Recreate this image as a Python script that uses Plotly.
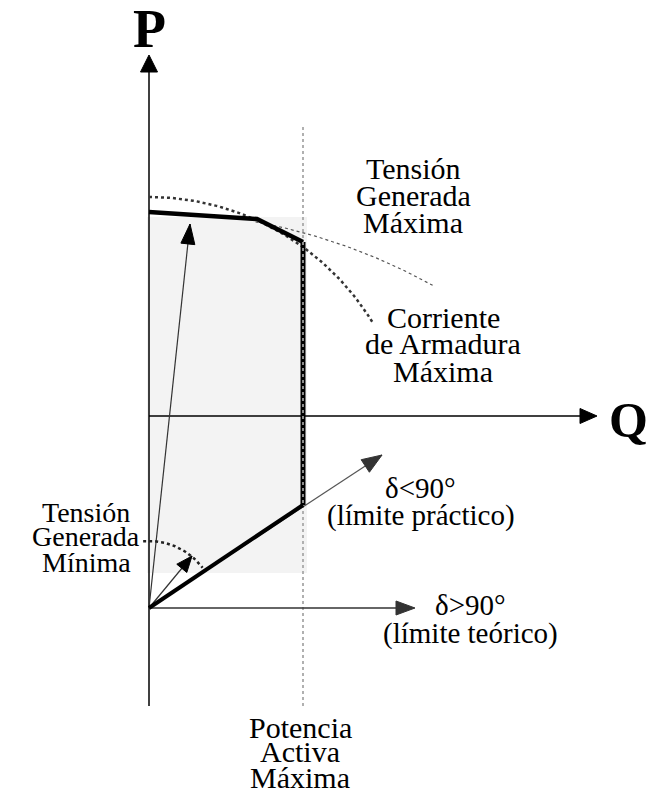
import numpy as np
import plotly.graph_objects as go

# ---- diagram geometry (diagram units = page pixels, y grows downward) ----
P_AXIS = dict(x=[149, 149], y=[706, 55])          # P axis, arrow at the top
Q_AXIS = dict(x=[149, 597], y=[416, 416])         # Q axis, arrow at the right
ORIGIN = [149, 608]                               # origin of the voltage vectors
DELTA_GT90_TIP = [415, 608]                       # δ>90° vector tip
DELTA_LT90_TIP = [382, 455]                       # δ<90° vector tip
EMAX_TIP = [190, 224]                             # max generated voltage vector tip
EMIN_TIP = [192, 556]                             # min generated voltage vector tip
PMAX_LINE = dict(x=[303, 303], y=[127, 706])      # potencia activa máxima
SHADE_X = [147, 307]
SHADE_Y = [217, 573]
TOP_LIMIT = dict(x=[149, 257, 303], y=[212, 219, 242])
SIDE_LIMIT = dict(x=[303, 303], y=[242, 505])
PRACT_LIMIT = dict(x=[303, 149], y=[505, 608])

ARM_CIRCLE = dict(cx=149, cy=459, r=262, a0=90, a1=31)    # corriente de armadura máx.
EMAX_CIRCLE = dict(cx=149, cy=797, r=585, a0=79.5, a1=61)  # tensión generada máx.
EMIN_ARC = dict(cx=149, cy=608, r=67, a0=95, a1=37)        # tensión generada mín.

LABELS = [
    # text, x, baseline y, size
    ("Tensión", 413, 178, 30), ("Generada", 413, 205, 30), ("Máxima", 413, 232, 30),
    ("Corriente", 443, 327, 30), ("de Armadura", 443, 353, 30), ("Máxima", 443, 381, 30),
    ("Tensión", 86, 522, 28), ("Generada", 86, 546, 28), ("Mínima", 86, 572, 28),
    ("δ<90°", 420, 498, 29), ("(límite práctico)", 421, 525, 29),
    ("δ>90°", 470, 615, 29), ("(límite teórico)", 470, 643, 29),
    ("Potencia", 300, 737, 30), ("Activa", 300, 761, 30), ("Máxima", 300, 787, 30),
]
AXIS_LABELS = [("P", 149, 47, 54), ("Q", 628, 436, 50)]

FONT = "Liberation Serif, Times New Roman, serif"
PAGE_OFFSET = 8   # default body margin of the written html page

fig = go.Figure()


def line(x, y, color="black", width=1.5, dash="solid"):
    fig.add_trace(go.Scatter(x=x, y=y, mode="lines", hoverinfo="skip",
                             line=dict(color=color, width=width, dash=dash)))


def arc(c, color, width, dash, n=80):
    t = np.radians(np.linspace(c["a0"], c["a1"], n))
    line(list(c["cx"] + c["r"] * np.cos(t)), list(c["cy"] - c["r"] * np.sin(t)),
         color=color, width=width, dash=dash)


def head(tail, tip, length, width, color="black"):
    d = np.array(tip, float) - np.array(tail, float)
    d /= np.linalg.norm(d)
    n = np.array([-d[1], d[0]])
    base = np.array(tip, float) - d * length
    p1 = base + n * width / 2
    p2 = base - n * width / 2
    fig.add_trace(go.Scatter(x=[tip[0], p1[0], p2[0], tip[0]],
                             y=[tip[1], p1[1], p2[1], tip[1]],
                             mode="lines", fill="toself", fillcolor=color,
                             line=dict(color=color, width=1), hoverinfo="skip"))


# shaded operating region
fig.add_shape(type="rect", x0=SHADE_X[0], x1=SHADE_X[1], y0=SHADE_Y[0], y1=SHADE_Y[1],
              fillcolor="#f3f3f3", line=dict(width=0), layer="below")

# potencia activa máxima (dotted grey)
line(PMAX_LINE["x"], PMAX_LINE["y"], color="#b0b0b0", width=2, dash="dot")

# axes
line(P_AXIS["x"], [P_AXIS["y"][0], P_AXIS["y"][1] + 10], width=1.5)
head([P_AXIS["x"][0], P_AXIS["y"][0]], [P_AXIS["x"][1], P_AXIS["y"][1]], 17, 17)
line([Q_AXIS["x"][0], Q_AXIS["x"][1] - 10], Q_AXIS["y"], width=1.5)
head([Q_AXIS["x"][0], Q_AXIS["y"][0]], [Q_AXIS["x"][1], Q_AXIS["y"][1]], 17, 15)

# δ>90° vector
line([ORIGIN[0], DELTA_GT90_TIP[0] - 10], [ORIGIN[1], DELTA_GT90_TIP[1]], color="#333", width=1.5)
head(ORIGIN, DELTA_GT90_TIP, 19, 14, color="#333")

# δ<90° vector
line([ORIGIN[0], DELTA_LT90_TIP[0]], [ORIGIN[1], DELTA_LT90_TIP[1]], color="#555", width=1.2)
head(ORIGIN, DELTA_LT90_TIP, 20, 15, color="#333")

# generated voltage vectors
line([ORIGIN[0], EMAX_TIP[0]], [ORIGIN[1], EMAX_TIP[1]], color="#333", width=1.2)
head(ORIGIN, EMAX_TIP, 20, 14)
line([ORIGIN[0], EMIN_TIP[0]], [ORIGIN[1], EMIN_TIP[1]], color="#333", width=1.2)
head(ORIGIN, EMIN_TIP, 16, 13)

# limit curves
arc(ARM_CIRCLE, "#333", 2.5, "dot")
arc(EMAX_CIRCLE, "#555", 1.2, "dot")
arc(EMIN_ARC, "#222", 2.5, "dot")

# thick operating limits
line(TOP_LIMIT["x"], TOP_LIMIT["y"], width=4.5)
line(PRACT_LIMIT["x"], PRACT_LIMIT["y"], width=4)
line(SIDE_LIMIT["x"], SIDE_LIMIT["y"], width=5)
line(SIDE_LIMIT["x"], SIDE_LIMIT["y"], color="#bbbbbb", width=1.5, dash="dot")

# texts
for txt, x, yb, s in LABELS:
    fig.add_annotation(x=x, y=yb - 0.33 * s, text=txt, showarrow=False,
                       xanchor="center", yanchor="middle",
                       font=dict(family=FONT, size=s, color="black"))
for txt, x, yb, s in AXIS_LABELS:
    fig.add_annotation(x=x, y=yb - 0.33 * s, text="<b>%s</b>" % txt, showarrow=False,
                       xanchor="center", yanchor="middle",
                       font=dict(family=FONT, size=s, color="black"))

fig.update_layout(width=658, height=792, margin=dict(l=0, r=0, t=0, b=0),
                  paper_bgcolor="white", plot_bgcolor="white", showlegend=False,
                  xaxis=dict(range=[PAGE_OFFSET, 658 + PAGE_OFFSET], visible=False, fixedrange=True),
                  yaxis=dict(range=[792 + PAGE_OFFSET, PAGE_OFFSET], visible=False, fixedrange=True))
fig.write_html("out.html")
